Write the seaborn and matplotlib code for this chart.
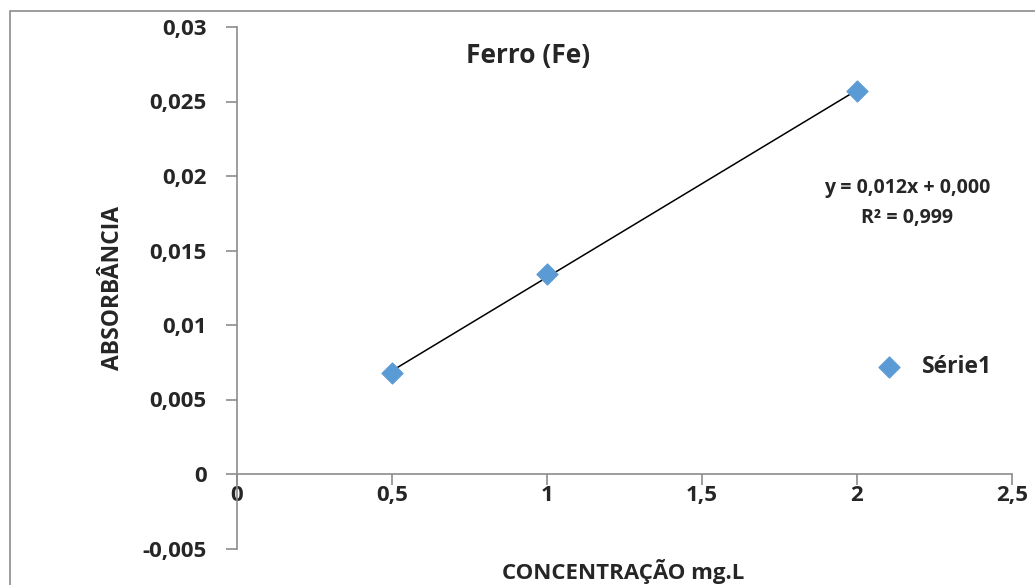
import numpy as np
import pandas as pd
import matplotlib
matplotlib.use("Agg")
import matplotlib.pyplot as plt
import seaborn as sns
from matplotlib.patches import Rectangle

# dados da curva de calibração
concentracao = [0.5, 1.0, 2.0]
absorbancia = [0.0068, 0.0134, 0.0257]
serie = "Série1"
x_ticks = [0, 0.5, 1, 1.5, 2, 2.5]
x_labels = ["0", "0,5", "1", "1,5", "2", "2,5"]
y_ticks = [-0.005, 0, 0.005, 0.01, 0.015, 0.02, 0.025, 0.03]
y_labels = ["-0,005", "0", "0,005", "0,01", "0,015", "0,02", "0,025", "0,03"]

df = pd.DataFrame({"conc": concentracao, "abs": absorbancia})

sns.set_style("white")
plt.rcParams["font.family"] = ["Open Sans", "DejaVu Sans"]

fig = plt.figure(figsize=(10.35, 5.85), dpi=100)
ax = fig.add_axes([237 / 1035, 1 - 548.5 / 585, (1012 - 237) / 1035, (548.5 - 27) / 585])

# borda da área do gráfico
fig.patches.append(Rectangle((10 / 1035, -0.05), 1.1, 1 - 11 / 585 + 0.05,
                             transform=fig.transFigure, fill=False,
                             edgecolor="#8c8c8c", linewidth=1.2))

grey = "#8c8c8c"
sns.regplot(data=df, x="conc", y="abs", ax=ax, scatter=False, ci=None,
            truncate=True, line_kws={"color": "black", "linewidth": 1.1})
sns.scatterplot(data=df, x="conc", y="abs", ax=ax, marker="D", s=115,
                color="#5b9bd5", edgecolor="#5b9bd5", label=serie, zorder=5)

ax.set_xlim(0, 2.5)
ax.set_ylim(-0.005, 0.03)
ax.spines["top"].set_visible(False)
ax.spines["right"].set_visible(False)
ax.spines["bottom"].set_position(("data", 0))
for s in ["left", "bottom"]:
    ax.spines[s].set_color(grey)
    ax.spines[s].set_linewidth(1.2)

ax.set_xticks(x_ticks)
ax.set_xticklabels(x_labels)
ax.set_yticks(y_ticks)
ax.set_yticklabels(y_labels)
ax.tick_params(axis="both", direction="out", length=8, width=1.2, color=grey,
               labelsize=16, bottom=True, left=True)
ax.tick_params(axis="x", pad=0)
ax.tick_params(axis="y", pad=14)
for lab in ax.get_xticklabels() + ax.get_yticklabels():
    lab.set_fontweight("bold")

ax.set_xlabel("")
ax.set_ylabel("")
fig.text(623 / 1035, 1 - 572 / 585, "CONCENTRAÇÃO mg.L", ha="center", va="center",
         fontsize=16, fontweight="bold")
fig.text(113 / 1035, 1 - 288 / 585, "ABSORBÂNCIA", ha="center", va="center",
         rotation=90, fontsize=16.5, fontweight="bold")
fig.text(528 / 1035, 1 - 55 / 585, "Ferro (Fe)", ha="center", va="center",
         fontsize=19, fontweight="bold")

fig.text(907 / 1035, 1 - 188 / 585, "y = 0,012x + 0,000", ha="center", va="center",
         fontsize=14, fontweight="bold")
fig.text(907 / 1035, 1 - 218 / 585, "R² = 0,999", ha="center", va="center",
         fontsize=14, fontweight="bold")

leg = ax.legend(loc="center left", bbox_to_anchor=(866 / 1035, 1 - 367 / 585),
                bbox_transform=fig.transFigure, frameon=False, fontsize=16.5,
                handletextpad=0.45, borderaxespad=0, borderpad=0)
for t in leg.get_texts():
    t.set_fontweight("bold")

fig.savefig("out.png", dpi=100)
